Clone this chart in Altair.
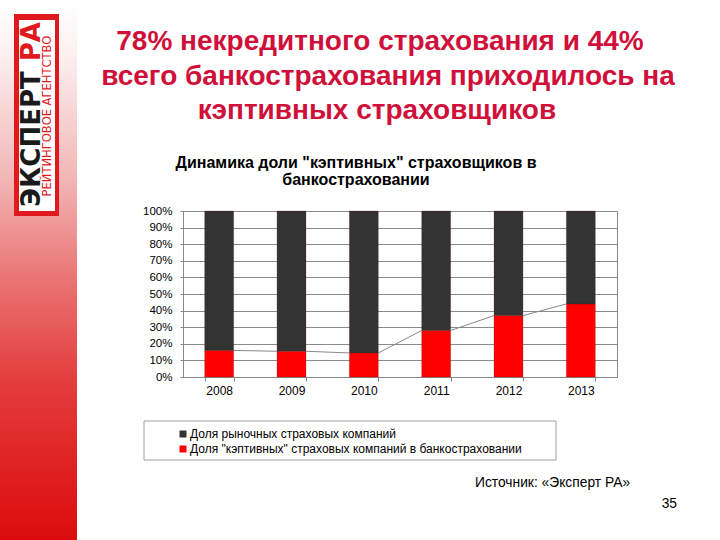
import altair as alt
import pandas as pd

# ---------------- data ----------------
years = ["2008", "2009", "2010", "2011", "2012", "2013"]
captive_share = [0.16, 0.155, 0.145, 0.28, 0.37, 0.44]
market_share = [0.84, 0.845, 0.855, 0.72, 0.63, 0.56]
series_names = ["Доля рыночных страховых компаний",
                'Доля "кэптивных" страховых компаний в банкостраховании']
series_colors = ["#333333", "#ff0000"]
y_ticks = [0, 0.1, 0.2, 0.3, 0.4, 0.5, 0.6, 0.7, 0.8, 0.9, 1.0]

title_lines = ["78% некредитного страхования и 44%",
               "всего банкострахования приходилось на",
               "кэптивных страховщиков"]
chart_title_lines = ['Динамика доли "кэптивных" страховщиков  в',
                     "банкостраховании"]
source_text = "Источник: «Эксперт РА»"
page_number = "35"
logo_main = "ЭКСПЕРТ"
logo_ra = "РА"
logo_sub = "РЕЙТИНГОВОЕ АГЕНТСТВО"

# ---------------- layout ----------------
PL, PT, W, H = 183, 211, 434, 166
FONT = "Liberation Sans, Arial, sans-serif"


def vx(px):
    return alt.value(px - PL)


def vy(py):
    return alt.value(py - PT)


rows = []
for i, yr in enumerate(years):
    rows.append({"year": yr, "series": series_names[1], "value": captive_share[i], "ord": 0})
    rows.append({"year": yr, "series": series_names[0], "value": market_share[i], "ord": 1})
df = pd.DataFrame(rows)

seg = pd.DataFrame({
    "year": years[:-1],
    "next_year": years[1:],
    "v": captive_share[:-1],
    "v_next": captive_share[1:],
})

one = pd.DataFrame({"a": [0]})

# ---------------- decorations ----------------
strip = alt.Chart(one).mark_rect(
    fill=alt.Gradient(
        gradient="linear", x1=0, x2=0, y1=0, y2=1,
        stops=[
            alt.GradientStop(offset=0, color="#ffffff"),
            alt.GradientStop(offset=0.1, color="#fcf0f0"),
            alt.GradientStop(offset=0.32, color="#f3b9b9"),
            alt.GradientStop(offset=0.52, color="#ea7373"),
            alt.GradientStop(offset=0.7, color="#e43e3e"),
            alt.GradientStop(offset=0.85, color="#e02424"),
            alt.GradientStop(offset=1, color="#dc0c0c"),
        ],
    )
).encode(x=vx(0), x2=vx(77), y=vy(0), y2=vy(540))

logo_outer = alt.Chart(one).mark_rect(fill="#e0191f").encode(
    x=vx(14), x2=vx(59), y=vy(14), y2=vy(216))
logo_inner = alt.Chart(one).mark_rect(fill="#ffffff").encode(
    x=vx(19), x2=vx(55), y=vy(20), y2=vy(211))

logo_t1 = alt.Chart(one).mark_text(
    text=logo_main, angle=270, align="left", baseline="alphabetic",
    font="DejaVu Sans", fontWeight="bold", fontSize=26, color="#1a1a1a"
).encode(x=vx(40), y=vy(207))
logo_t2 = alt.Chart(one).mark_text(
    text=logo_ra, angle=270, align="right", baseline="alphabetic",
    font="DejaVu Sans", fontWeight="bold", fontSize=26, color="#e0191f"
).encode(x=vx(40), y=vy(22))
logo_t3 = alt.Chart(one).mark_text(
    text=logo_sub, angle=270, align="center", baseline="alphabetic",
    font="DejaVu Sans", fontSize=11.5, color="#e0191f"
).encode(x=vx(51), y=vy(116))

title_layers = []
for txt, cx, by in zip(title_lines, [380, 388, 377], [50, 85, 119]):
    title_layers.append(
        alt.Chart(one).mark_text(
            text=txt, align="center", baseline="alphabetic",
            font=FONT, fontWeight="bold", fontSize=28, color="#d0103a"
        ).encode(x=vx(cx), y=vy(by))
    )

for txt, by in zip(chart_title_lines, [168, 185]):
    title_layers.append(
        alt.Chart(one).mark_text(
            text=txt, align="center", baseline="alphabetic",
            font=FONT, fontWeight="bold", fontSize=16, color="#000000"
        ).encode(x=vx(356), y=vy(by))
    )

src = alt.Chart(one).mark_text(
    text=source_text, align="left", baseline="alphabetic",
    font=FONT, fontSize=13.8, color="#000000"
).encode(x=vx(475), y=vy(487))
pg = alt.Chart(one).mark_text(
    text=page_number, align="right", baseline="alphabetic",
    font=FONT, fontSize=13.8, color="#000000"
).encode(x=vx(677), y=vy(508))

legend_frame = alt.Chart(one).mark_rect(
    fill="#ffffff", stroke="#a0a0a0", strokeWidth=1
).encode(x=vx(144), x2=vx(556), y=vy(421), y2=vy(460))

# ---------------- chart ----------------
x_axis = alt.Axis(
    title=None, labelAngle=0, tickBand="extent", labelFont=FONT,
    labelFontSize=12, labelColor="#000000", labelPadding=4,
    tickSize=4, tickColor="#888888", domainColor="#888888", grid=False,
)
y_axis = alt.Axis(
    title=None, values=y_ticks, format=".0%", labelFont=FONT,
    labelFontSize=11.5, labelColor="#000000", labelPadding=8,
    labelOverlap=False, labelFlush=False, labelBound=False,
    tickSize=3, tickColor="#888888", domainColor="#888888",
    grid=True, gridColor="#8a8a8a", gridWidth=1,
)
x_scale = alt.Scale(paddingInner=0.6, paddingOuter=0.3)
y_scale = alt.Scale(domain=[0, 1], nice=False)

bars = alt.Chart(df).mark_bar(stroke="#5a0000", strokeWidth=0.4, strokeOpacity=0.6).encode(
    x=alt.X("year:N", sort=years, scale=x_scale, axis=x_axis),
    y=alt.Y("value:Q", stack="zero", scale=y_scale, axis=y_axis),
    color=alt.Color(
        "series:N",
        scale=alt.Scale(domain=series_names, range=series_colors),
        legend=alt.Legend(
            title=None, orient="none", legendX=-6, legendY=217,
            symbolType="square", symbolSize=49, symbolStrokeWidth=0,
            labelFont=FONT, labelFontSize=12, labelColor="#000000",
            rowPadding=3, labelOffset=1, padding=0, labelLimit=500,
        ),
    ),
    order=alt.Order("ord:Q"),
)

lines = alt.Chart(seg).mark_rule(color="#888888", strokeWidth=1).encode(
    x=alt.X("year:N", sort=years, bandPosition=1, scale=x_scale, axis=x_axis),
    x2=alt.X2("next_year:N", bandPosition=0),
    y=alt.Y("v:Q", scale=y_scale, axis=y_axis),
    y2=alt.Y2("v_next:Q"),
)

chart = alt.layer(
    strip, logo_outer, logo_inner, logo_t1, logo_t2, logo_t3,
    *title_layers, src, pg, legend_frame, bars, lines,
).properties(
    width=W, height=H,
    padding={"left": PL, "top": PT, "right": 720 - PL - W, "bottom": 540 - PT - H},
    autosize=alt.AutoSizeParams(type="none"),
    background="#ffffff",
).configure_view(stroke="#888888", strokeWidth=1)

chart.save("out.html", embed_options={"renderer": "svg", "actions": False})
